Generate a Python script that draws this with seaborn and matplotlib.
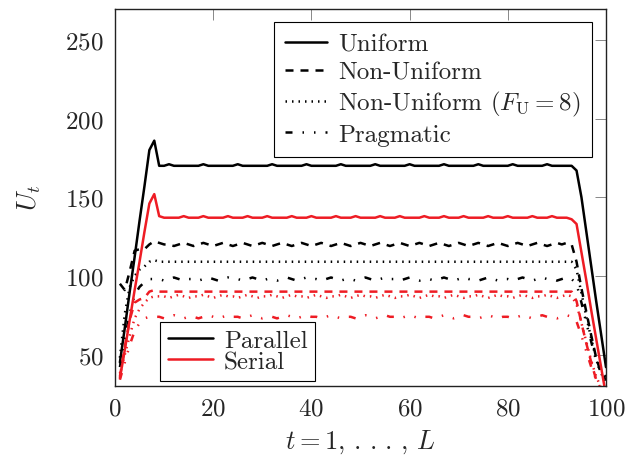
import matplotlib
matplotlib.use("Agg")
import matplotlib.pyplot as plt
from matplotlib.lines import Line2D
import seaborn as sns
import pandas as pd

# U_t per time step (t = 1..100)
t = list(range(1, 101))

uni_par = [
    45, 67, 90, 112, 135, 157, 180, 186, 170, 170,
    171, 170, 170, 170, 170, 170, 170, 171, 170, 170,
    170, 170, 170, 170, 171, 170, 170, 170, 170, 170,
    170, 171, 170, 170, 170, 170, 170, 170, 171, 170,
    170, 170, 170, 170, 170, 171, 170, 170, 170, 170,
    170, 170, 171, 170, 170, 170, 170, 170, 170, 171,
    170, 170, 170, 170, 170, 170, 171, 170, 170, 170,
    170, 170, 170, 171, 170, 170, 170, 170, 170, 170,
    171, 170, 170, 170, 170, 170, 170, 171, 170, 170,
    170, 170, 170, 167, 150, 128, 106, 84, 63, 42,
]
uni_ser = [
    35, 53, 72, 91, 109, 128, 146, 152, 138, 137,
    137, 137, 137, 138, 137, 137, 137, 138, 137, 137,
    137, 137, 138, 137, 137, 137, 138, 137, 137, 137,
    138, 137, 137, 137, 137, 138, 137, 137, 137, 138,
    137, 137, 137, 137, 138, 137, 137, 137, 138, 137,
    137, 137, 137, 138, 137, 137, 137, 138, 137, 137,
    137, 137, 138, 137, 137, 137, 138, 137, 137, 137,
    138, 137, 137, 137, 137, 138, 137, 137, 137, 138,
    137, 137, 137, 137, 138, 137, 137, 137, 138, 137,
    137, 137, 136, 133, 115, 97, 78, 60, 42, 24,
]
nu_par = [
    95, 91, 103, 116, 117, 117, 120, 122, 121, 120,
    120, 119, 120, 121, 120, 119, 120, 121, 120, 119,
    120, 121, 120, 119, 120, 121, 120, 119, 120, 121,
    120, 119, 120, 121, 120, 119, 120, 121, 120, 119,
    120, 121, 120, 119, 120, 121, 120, 119, 120, 121,
    120, 119, 120, 121, 120, 119, 120, 121, 120, 119,
    120, 121, 120, 119, 120, 121, 120, 119, 120, 121,
    120, 119, 120, 121, 120, 119, 120, 121, 120, 119,
    120, 121, 120, 119, 120, 121, 120, 119, 120, 121,
    120, 121, 120, 109, 92, 77, 62, 48, 38, 34,
]
nu8_par = [
    48, 76, 93, 100, 104, 106, 109, 110, 109, 109,
    109, 109, 109, 109, 109, 109, 109, 109, 109, 109,
    109, 109, 109, 109, 109, 109, 109, 109, 109, 109,
    109, 109, 109, 109, 109, 109, 109, 109, 109, 109,
    109, 109, 109, 109, 109, 109, 109, 109, 109, 109,
    109, 109, 109, 109, 109, 109, 109, 109, 109, 109,
    109, 109, 109, 109, 109, 109, 109, 109, 109, 109,
    109, 109, 109, 109, 109, 109, 109, 109, 109, 109,
    109, 109, 109, 109, 109, 109, 109, 109, 109, 109,
    109, 109, 109, 104, 89, 74, 60, 47, 38, 33,
]
prag_par = [
    42, 60, 76, 88, 93, 96, 98, 98, 98, 97,
    98, 99, 98, 97, 98, 98, 97, 98, 99, 98,
    97, 98, 99, 98, 98, 97, 98, 99, 98, 97,
    98, 98, 97, 98, 99, 98, 97, 98, 99, 98,
    98, 97, 98, 99, 98, 97, 98, 98, 97, 98,
    99, 98, 97, 98, 99, 98, 98, 97, 98, 99,
    98, 97, 98, 98, 97, 98, 99, 98, 97, 98,
    99, 98, 98, 97, 98, 99, 98, 97, 98, 98,
    97, 98, 99, 98, 97, 98, 99, 98, 98, 97,
    98, 99, 98, 95, 83, 70, 58, 46, 38, 36,
]
nu_ser = [
    36, 55, 72, 83, 85, 86, 90, 91, 90, 90,
    90, 90, 90, 90, 90, 90, 90, 90, 90, 90,
    90, 90, 90, 90, 90, 90, 90, 90, 90, 90,
    90, 90, 90, 90, 90, 90, 90, 90, 90, 90,
    90, 90, 90, 90, 90, 90, 90, 90, 90, 90,
    90, 90, 90, 90, 90, 90, 90, 90, 90, 90,
    90, 90, 90, 90, 90, 90, 90, 90, 90, 90,
    90, 90, 90, 90, 90, 90, 90, 90, 90, 90,
    90, 90, 90, 90, 90, 90, 90, 90, 90, 90,
    90, 90, 90, 84, 70, 57, 45, 34, 28, 26,
]
nu8_ser = [
    38, 50, 62, 73, 79, 83, 86, 87, 87, 87,
    86, 87, 88, 87, 86, 87, 87, 88, 87, 86,
    87, 88, 87, 87, 86, 87, 88, 87, 86, 87,
    87, 88, 87, 86, 87, 88, 87, 87, 86, 87,
    88, 87, 86, 87, 87, 88, 87, 86, 87, 88,
    87, 87, 86, 87, 88, 87, 86, 87, 87, 88,
    87, 86, 87, 88, 87, 87, 86, 87, 88, 87,
    86, 87, 87, 88, 87, 86, 87, 88, 87, 87,
    86, 87, 88, 87, 86, 87, 87, 88, 87, 86,
    87, 88, 87, 82, 70, 58, 46, 36, 29, 27,
]
prag_ser = [
    34, 45, 56, 65, 70, 73, 74, 74, 74, 73,
    74, 75, 74, 73, 74, 74, 73, 74, 75, 74,
    73, 74, 75, 74, 74, 73, 74, 75, 74, 73,
    74, 74, 73, 74, 75, 74, 73, 74, 75, 74,
    74, 73, 74, 75, 74, 73, 74, 74, 73, 74,
    75, 74, 73, 74, 75, 74, 74, 73, 74, 75,
    74, 73, 74, 74, 73, 74, 75, 74, 73, 74,
    75, 74, 74, 73, 74, 75, 74, 73, 74, 74,
    73, 74, 75, 74, 73, 74, 75, 74, 74, 73,
    74, 75, 74, 71, 62, 52, 42, 34, 29, 28,
]

schemes = ["Uniform", "Non-Uniform", "Non-Uniform ($F_{\\mathrm{U}} = 8$)", "Pragmatic"]
modes = ["Parallel", "Serial"]

series = {
    ("Uniform", "Parallel"): uni_par,
    ("Uniform", "Serial"): uni_ser,
    ("Non-Uniform", "Parallel"): nu_par,
    ("Non-Uniform", "Serial"): nu_ser,
    (schemes[2], "Parallel"): nu8_par,
    (schemes[2], "Serial"): nu8_ser,
    ("Pragmatic", "Parallel"): prag_par,
    ("Pragmatic", "Serial"): prag_ser,
}

rows = []
for (scheme, mode), vals in series.items():
    for ti, u in zip(t, vals):
        rows.append({"t": ti, "U": u, "scheme": scheme, "mode": mode})
df = pd.DataFrame(rows)

sns.set_style("white")
plt.rcParams["font.family"] = ["cmr10", "DejaVu Serif"]
plt.rcParams["mathtext.fontset"] = "cm"
plt.rcParams["axes.formatter.use_mathtext"] = True

palette = {"Parallel": "black", "Serial": "#ee1c24"}
dashes = {
    "Uniform": "",
    "Non-Uniform": (3.2, 2.8),
    schemes[2]: (0.6, 2.0),
    "Pragmatic": (2.8, 4.0, 0.6, 4.0, 0.6, 4.0),
}

fig = plt.figure(figsize=(6.27, 4.6), dpi=100)
ax = fig.add_axes([0.1834, 0.1587, 0.7831, 0.8206])

sns.lineplot(data=df, x="t", y="U", hue="mode", style="scheme",
             palette=palette, dashes=dashes, linewidth=1.8,
             legend=False, ax=ax, estimator=None, sort=False)

ax.set_xlim(0, 100)
ax.set_ylim(30, 270)
ax.set_xticks([0, 20, 40, 60, 80, 100])
ax.set_yticks([50, 100, 150, 200, 250])
ax.tick_params(direction="in", length=8, width=0.7, color="#888888",
               top=True, right=True, labelsize=18, pad=8)
for sp in ax.spines.values():
    sp.set_color("#222222")
    sp.set_linewidth(1.0)

ax.set_xlabel("$t = 1,\\,.\\,.\\,.\\,,\\,L$", fontsize=19, labelpad=6)
ax.set_ylabel("$U_t$", fontsize=19, labelpad=16)

h1 = [Line2D([], [], color="black", lw=1.8, linestyle=(0, d) if d else "-")
      for d in dashes.values()]
leg1 = ax.legend(h1, schemes, loc="upper right", bbox_to_anchor=(0.971, 0.965),
                 borderaxespad=0, fontsize=18, frameon=True, fancybox=False,
                 edgecolor="black", framealpha=1, handlelength=1.66,
                 handletextpad=0.45, labelspacing=0.22, borderpad=0.45)
leg1.get_frame().set_linewidth(0.8)
ax.add_artist(leg1)

h2 = [Line2D([], [], color=palette[m], lw=1.8) for m in modes]
leg2 = ax.legend(h2, modes, loc="lower left", bbox_to_anchor=(0.0917, 0.014),
                 borderaxespad=0, fontsize=18, frameon=True, fancybox=False,
                 edgecolor="black", framealpha=1, handlelength=1.8,
                 handletextpad=0.45, labelspacing=-0.05, borderpad=0.3)
leg2.get_frame().set_linewidth(0.8)

fig.savefig("out.png", dpi=100)
